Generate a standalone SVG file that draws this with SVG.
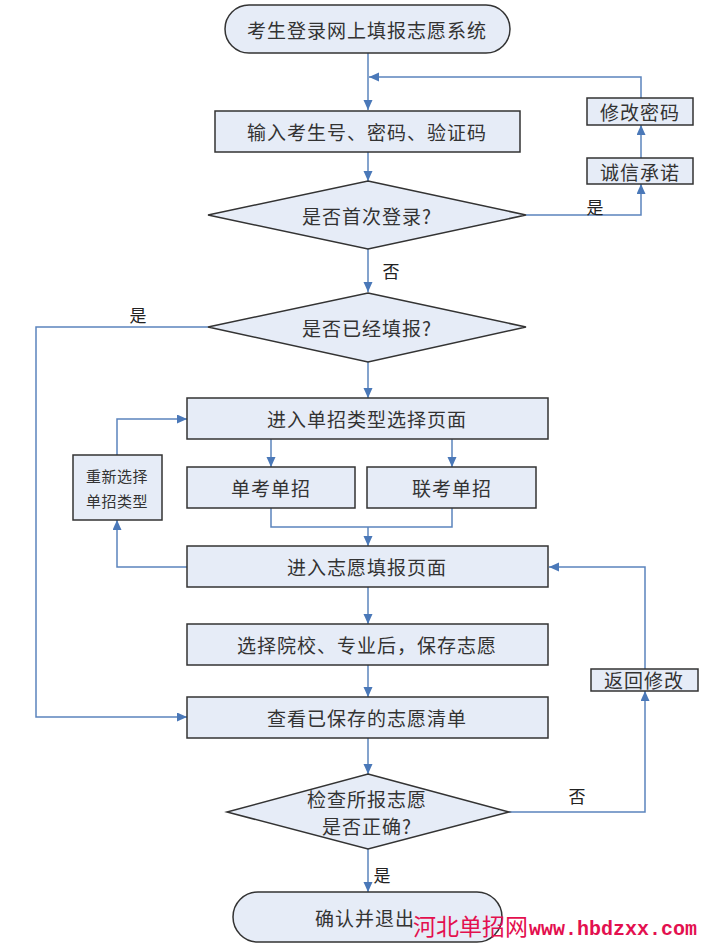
<svg xmlns="http://www.w3.org/2000/svg" width="706" height="946" viewBox="0 0 706 946">
<style>
.n{fill:#e6ecf7;stroke:#333;stroke-width:1.5}
.t{font-family:"Noto Sans CJK SC",sans-serif;font-size:19px;fill:#333;text-anchor:middle;dominant-baseline:central;letter-spacing:1px}
.s{font-size:15px;letter-spacing:0.5px}
.l{font-family:"Noto Sans CJK SC",sans-serif;font-size:17px;fill:#222;text-anchor:middle;dominant-baseline:central}
.c{fill:none;stroke:#5b84bd;stroke-width:1.5;marker-end:url(#a)}
.c0{fill:none;stroke:#5b84bd;stroke-width:1.5}
</style>
<defs>
<marker id="a" markerUnits="userSpaceOnUse" markerWidth="10" markerHeight="10" refX="10" refY="4.5" orient="auto">
<path d="M0,0 L10,4.5 L0,9 z" fill="#4a78b8"/>
</marker>
</defs>
<rect width="706" height="946" fill="#fff"/>
<g id="connectors">
<path class="c" d="M368,53 V110"/>
<path class="c" d="M641,98 V77 H369"/>
<path class="c" d="M368,152 V181"/>
<path class="c" d="M526,215 H641 V184"/>
<path class="c" d="M641,158 V125"/>
<path class="c" d="M368,249 V292"/>
<path class="c" d="M208,327 H36 V717 H187"/>
<path class="c" d="M368,362 V398"/>
<path class="c" d="M271,439 V467"/>
<path class="c" d="M452,439 V467"/>
<path class="c0" d="M271,508 V527 H452 V508"/>
<path class="c" d="M368,527 V546"/>
<path class="c" d="M187,567 H117 V520"/>
<path class="c" d="M117,455 V419 H187"/>
<path class="c" d="M368,587 V624"/>
<path class="c" d="M368,665 V697"/>
<path class="c" d="M368,738 V774"/>
<path class="c" d="M509,812 H645 V691"/>
<path class="c" d="M645,669 V567 H549"/>
<path class="c" d="M368,849 V892"/>
<text class="l" x="595" y="206">是</text>
<text class="l" x="391" y="270">否</text>
<text class="l" x="138" y="314">是</text>
<text class="l" x="577" y="795">否</text>
<text class="l" x="382" y="874">是</text>
</g>
<g id="start"><rect class="n" x="225" y="5" width="285" height="48" rx="24"/><text class="t" x="367" y="29">考生登录网上填报志愿系统</text></g>
<g id="login"><rect class="n" x="215" y="111" width="305" height="41"/><text class="t" x="367" y="131">输入考生号、密码、验证码</text></g>
<g id="changepwd"><rect class="n" x="587" y="98" width="106" height="27"/><text class="t" x="640" y="111">修改密码</text></g>
<g id="promise"><rect class="n" x="587" y="158" width="106" height="26"/><text class="t" x="640" y="171">诚信承诺</text></g>
<g id="first"><polygon class="n" points="368,181 526,215 368,249 208,215"/><text class="t" x="367" y="215">是否首次登录?</text></g>
<g id="filled"><polygon class="n" points="368,293 526,327 368,362 208,327"/><text class="t" x="367" y="327">是否已经填报?</text></g>
<g id="typepage"><rect class="n" x="187" y="398" width="361" height="41"/><text class="t" x="367" y="418">进入单招类型选择页面</text></g>
<g id="reselect"><rect class="n" x="73" y="455" width="89" height="65"/><text class="t s" x="117" y="475">重新选择</text><text class="t s" x="117" y="500">单招类型</text></g>
<g id="dankao"><rect class="n" x="187" y="467" width="168" height="41"/><text class="t" x="271" y="487">单考单招</text></g>
<g id="liankao"><rect class="n" x="367" y="467" width="169" height="41"/><text class="t" x="452" y="487">联考单招</text></g>
<g id="fillpage"><rect class="n" x="187" y="546" width="361" height="41"/><text class="t" x="367" y="566">进入志愿填报页面</text></g>
<g id="choose"><rect class="n" x="187" y="624" width="361" height="41"/><text class="t" x="367" y="644">选择院校、专业后，保存志愿</text></g>
<g id="back"><rect class="n" x="591" y="669" width="107" height="22"/><text class="t" x="644" y="679">返回修改</text></g>
<g id="list"><rect class="n" x="187" y="697" width="361" height="41"/><text class="t" x="367" y="717">查看已保存的志愿清单</text></g>
<g id="check"><polygon class="n" points="368,774 509,812 368,849 227,812"/><text class="t" x="367" y="798">检查所报志愿</text><text class="t" x="367" y="825">是否正确?</text></g>
<g id="end"><rect class="n" x="233" y="892" width="269" height="50" rx="25"/><text class="t" x="365" y="917">确认并退出</text></g>
<g id="watermark"><text x="413" y="935" font-family="Noto Sans CJK SC,sans-serif" font-size="23" fill="#e3104f">河北单招网</text><text x="529" y="935" font-family="Liberation Mono,monospace" font-weight="bold" font-size="20" fill="#e3104f">www.hbdzxx.com</text></g>
</svg>
